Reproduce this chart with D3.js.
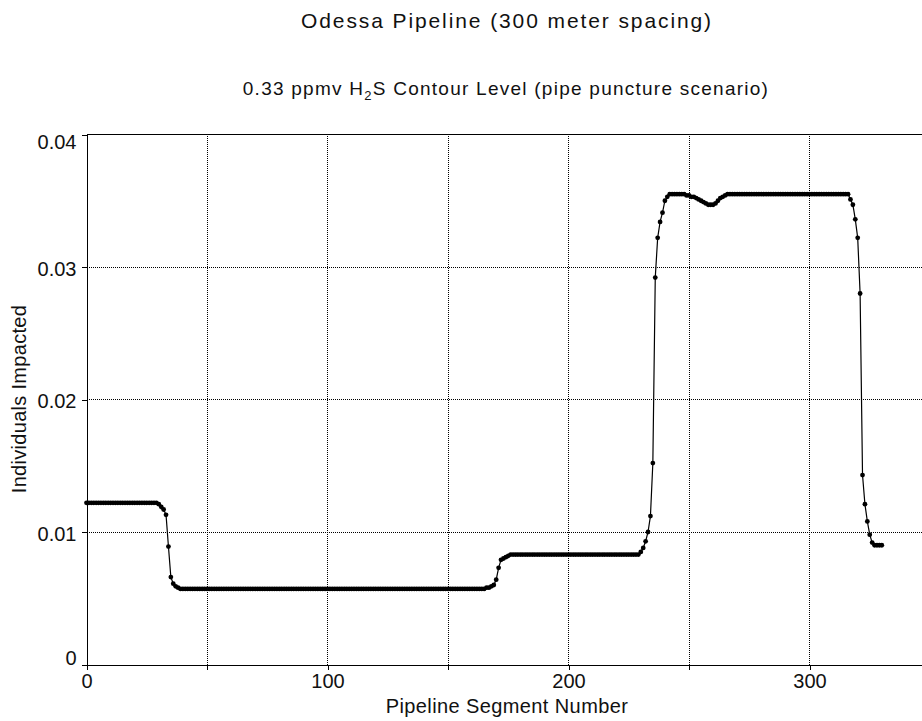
<!DOCTYPE html>
<html>
<head>
<meta charset="utf-8">
<script src="https://cdn.jsdelivr.net/npm/d3@7"></script>
<style>
  body { margin: 0; background: #fff; }
  text { font-family: "Liberation Sans", Arial, sans-serif; fill: #111; }
</style>
</head>
<body>
<div id="chart"></div>
<script>
// individuals impacted, one value per pipeline segment (segment number = index)
var impacted = [
  0.0122, 0.0122, 0.0122, 0.0122, 0.0122, 0.0122, 0.0122, 0.0122, 0.0122, 0.0122, // 0
  0.0122, 0.0122, 0.0122, 0.0122, 0.0122, 0.0122, 0.0122, 0.0122, 0.0122, 0.0122, // 10
  0.0122, 0.0122, 0.0122, 0.0122, 0.0122, 0.0122, 0.0122, 0.0122, 0.0122, 0.0122, // 20
  0.0121, 0.0119, 0.0117, 0.0113, 0.0089, 0.0066, 0.0061, 0.0059, 0.0058,         // 30
  0.0057, 0.0057, 0.0057, 0.0057, 0.0057, 0.0057, 0.0057, 0.0057, 0.0057, 0.0057, // 39
  0.0057, 0.0057, 0.0057, 0.0057, 0.0057, 0.0057, 0.0057, 0.0057, 0.0057, 0.0057, // 49
  0.0057, 0.0057, 0.0057, 0.0057, 0.0057, 0.0057, 0.0057, 0.0057, 0.0057, 0.0057, // 59
  0.0057, 0.0057, 0.0057, 0.0057, 0.0057, 0.0057, 0.0057, 0.0057, 0.0057, 0.0057, // 69
  0.0057, 0.0057, 0.0057, 0.0057, 0.0057, 0.0057, 0.0057, 0.0057, 0.0057, 0.0057, // 79
  0.0057, 0.0057, 0.0057, 0.0057, 0.0057, 0.0057, 0.0057, 0.0057, 0.0057, 0.0057, // 89
  0.0057, 0.0057, 0.0057, 0.0057, 0.0057, 0.0057, 0.0057, 0.0057, 0.0057, 0.0057, // 99
  0.0057, 0.0057, 0.0057, 0.0057, 0.0057, 0.0057, 0.0057, 0.0057, 0.0057, 0.0057, // 109
  0.0057, 0.0057, 0.0057, 0.0057, 0.0057, 0.0057, 0.0057, 0.0057, 0.0057, 0.0057, // 119
  0.0057, 0.0057, 0.0057, 0.0057, 0.0057, 0.0057, 0.0057, 0.0057, 0.0057, 0.0057, // 129
  0.0057, 0.0057, 0.0057, 0.0057, 0.0057, 0.0057, 0.0057, 0.0057, 0.0057, 0.0057, // 139
  0.0057, 0.0057, 0.0057, 0.0057, 0.0057, 0.0057, 0.0057, 0.0057, 0.0057, 0.0057, // 149
  0.0057, 0.0057, 0.0057, 0.0057, 0.0057, 0.0057,                                 // 159
  0.0057, 0.0058, 0.0058, 0.0059, 0.0060, 0.0064, 0.0073, 0.0079, 0.0080, 0.0081, // 165
  0.0082,                                                                         // 175
  0.0083, 0.0083, 0.0083, 0.0083, 0.0083, 0.0083, 0.0083, 0.0083, 0.0083, 0.0083, // 176
  0.0083, 0.0083, 0.0083, 0.0083, 0.0083, 0.0083, 0.0083, 0.0083, 0.0083, 0.0083, // 186
  0.0083, 0.0083, 0.0083, 0.0083, 0.0083, 0.0083, 0.0083, 0.0083, 0.0083, 0.0083, // 196
  0.0083, 0.0083, 0.0083, 0.0083, 0.0083, 0.0083, 0.0083, 0.0083, 0.0083, 0.0083, // 206
  0.0083, 0.0083, 0.0083, 0.0083, 0.0083, 0.0083, 0.0083, 0.0083, 0.0083, 0.0083, // 216
  0.0083, 0.0083, 0.0083, 0.0083,                                                 // 226
  0.0085, 0.0088, 0.0093, 0.0100, 0.0112, 0.0152, 0.0292, 0.0322, 0.0334, 0.0341, // 230
  0.0350, 0.0353,                                                                 // 240
  0.0355, 0.0355, 0.0355, 0.0355, 0.0355, 0.0355, 0.0355,                         // 242
  0.0354, 0.0354, 0.0353, 0.0353, 0.0352, 0.0351, 0.0350, 0.0349, 0.0348, 0.0347, // 249
  0.0347, 0.0347, 0.0348, 0.0350, 0.0352, 0.0353, 0.0354,                         // 259
  0.0355, 0.0355, 0.0355, 0.0355, 0.0355, 0.0355, 0.0355, 0.0355, 0.0355, 0.0355, // 266
  0.0355, 0.0355, 0.0355, 0.0355, 0.0355, 0.0355, 0.0355, 0.0355, 0.0355, 0.0355, // 276
  0.0355, 0.0355, 0.0355, 0.0355, 0.0355, 0.0355, 0.0355, 0.0355, 0.0355, 0.0355, // 286
  0.0355, 0.0355, 0.0355, 0.0355, 0.0355, 0.0355, 0.0355, 0.0355, 0.0355, 0.0355, // 296
  0.0355, 0.0355, 0.0355, 0.0355, 0.0355, 0.0355, 0.0355, 0.0355, 0.0355, 0.0355, // 306
  0.0355,                                                                         // 316
  0.0351, 0.0347, 0.0336, 0.0322, 0.0280, 0.0143, 0.0121, 0.0108, 0.0098, 0.0092, // 317
  0.0090, 0.0090, 0.0090, 0.0090                                                  // 327
];

var xTicks = [0, 50, 100, 150, 200, 250, 300, 350];
var xTickLabels = [0, 100, 200, 300];
var yTicks = [0, 0.01, 0.02, 0.03, 0.04];
var xGrid = [50, 100, 150, 200, 250, 300, 350];
var yGrid = [0.01, 0.02, 0.03];

var width = 922, height = 721;

var svg = d3.select("#chart")
  .append("svg")
  .attr("width", width)
  .attr("height", height)
  .style("display", "block");

var x = d3.scaleLinear().domain([0, 350]).range([86.5, 930]);
var y = d3.scaleLinear().domain([0, 0.04]).range([664.5, 134.5]);

var points = impacted.map(function(v, i) { return { seg: i, val: v }; });

// titles
svg.append("text")
  .attr("x", 507).attr("y", 28)
  .attr("text-anchor", "middle")
  .style("font-size", "21px")
  .style("letter-spacing", "1.9px")
  .text("Odessa Pipeline (300 meter spacing)");

var sub = svg.append("text")
  .attr("x", 506).attr("y", 95)
  .attr("text-anchor", "middle")
  .style("font-size", "19px")
  .style("letter-spacing", "1.25px");
sub.append("tspan").text("0.33 ppmv H");
sub.append("tspan").attr("dy", 5).style("font-size", "13px").text("2");
sub.append("tspan").attr("dy", -5).text("S Contour Level (pipe puncture scenario)");

// grid (dotted)
var grid = svg.append("g")
  .attr("stroke", "#000")
  .attr("stroke-width", 1)
  .attr("stroke-dasharray", "1,1")
  .attr("shape-rendering", "crispEdges");

grid.selectAll(".xg").data(xGrid).enter().append("line")
  .attr("x1", d => x(d)).attr("x2", d => x(d))
  .attr("y1", y(0)).attr("y2", y(0.04));

grid.selectAll(".yg").data(yGrid).enter().append("line")
  .attr("x1", x(0)).attr("x2", x(350))
  .attr("y1", d => y(d)).attr("y2", d => y(d));

// top frame line
svg.append("line")
  .attr("x1", x(0)).attr("x2", x(350))
  .attr("y1", y(0.04)).attr("y2", y(0.04))
  .attr("stroke", "#000")
  .attr("shape-rendering", "crispEdges");

// axes
var xAxis = d3.axisBottom(x)
  .tickValues(xTicks)
  .tickSize(5)
  .tickSizeOuter(0)
  .tickPadding(4)
  .tickFormat(d => xTickLabels.indexOf(d) >= 0 ? d : "");

var yAxis = d3.axisLeft(y)
  .tickValues(yTicks)
  .tickSize(5)
  .tickSizeOuter(0)
  .tickPadding(5)
  .tickFormat(d => d === 0 ? "0" : d3.format(".2f")(d));

var gx = svg.append("g")
  .attr("transform", "translate(0," + y(0) + ")")
  .call(xAxis);

var gy = svg.append("g")
  .attr("transform", "translate(" + x(0) + ",0)")
  .call(yAxis);

[gx, gy].forEach(function(g) {
  g.selectAll("path, line").attr("stroke", "#000").attr("shape-rendering", "crispEdges");
  g.selectAll("text")
    .style("font-family", "\"Liberation Sans\", Arial, sans-serif")
    .style("font-size", "20px")
    .attr("fill", "#111");
});

// end labels sit inside the axis range, like the original
gy.selectAll(".tick text").attr("dy", d => d === 0 ? "0em" : d === 0.04 ? "0.72em" : "0.4em");

// axis titles
svg.append("text")
  .attr("x", 507).attr("y", 713)
  .attr("text-anchor", "middle")
  .style("font-size", "20px")
  .style("letter-spacing", "0.4px")
  .text("Pipeline Segment Number");

svg.append("text")
  .attr("transform", "translate(26,399) rotate(-90)")
  .attr("text-anchor", "middle")
  .style("font-size", "20px")
  .style("letter-spacing", "0.3px")
  .text("Individuals Impacted");

// series
var line = d3.line()
  .x(d => x(d.seg))
  .y(d => y(d.val));

svg.append("path")
  .datum(points)
  .attr("fill", "none")
  .attr("stroke", "#000")
  .attr("stroke-width", 1.2)
  .attr("d", line);

svg.selectAll(".pt")
  .data(points)
  .enter().append("circle")
  .attr("class", "pt")
  .attr("cx", d => x(d.seg))
  .attr("cy", d => y(d.val))
  .attr("r", 2.4)
  .attr("fill", "#000");
</script>
</body>
</html>
